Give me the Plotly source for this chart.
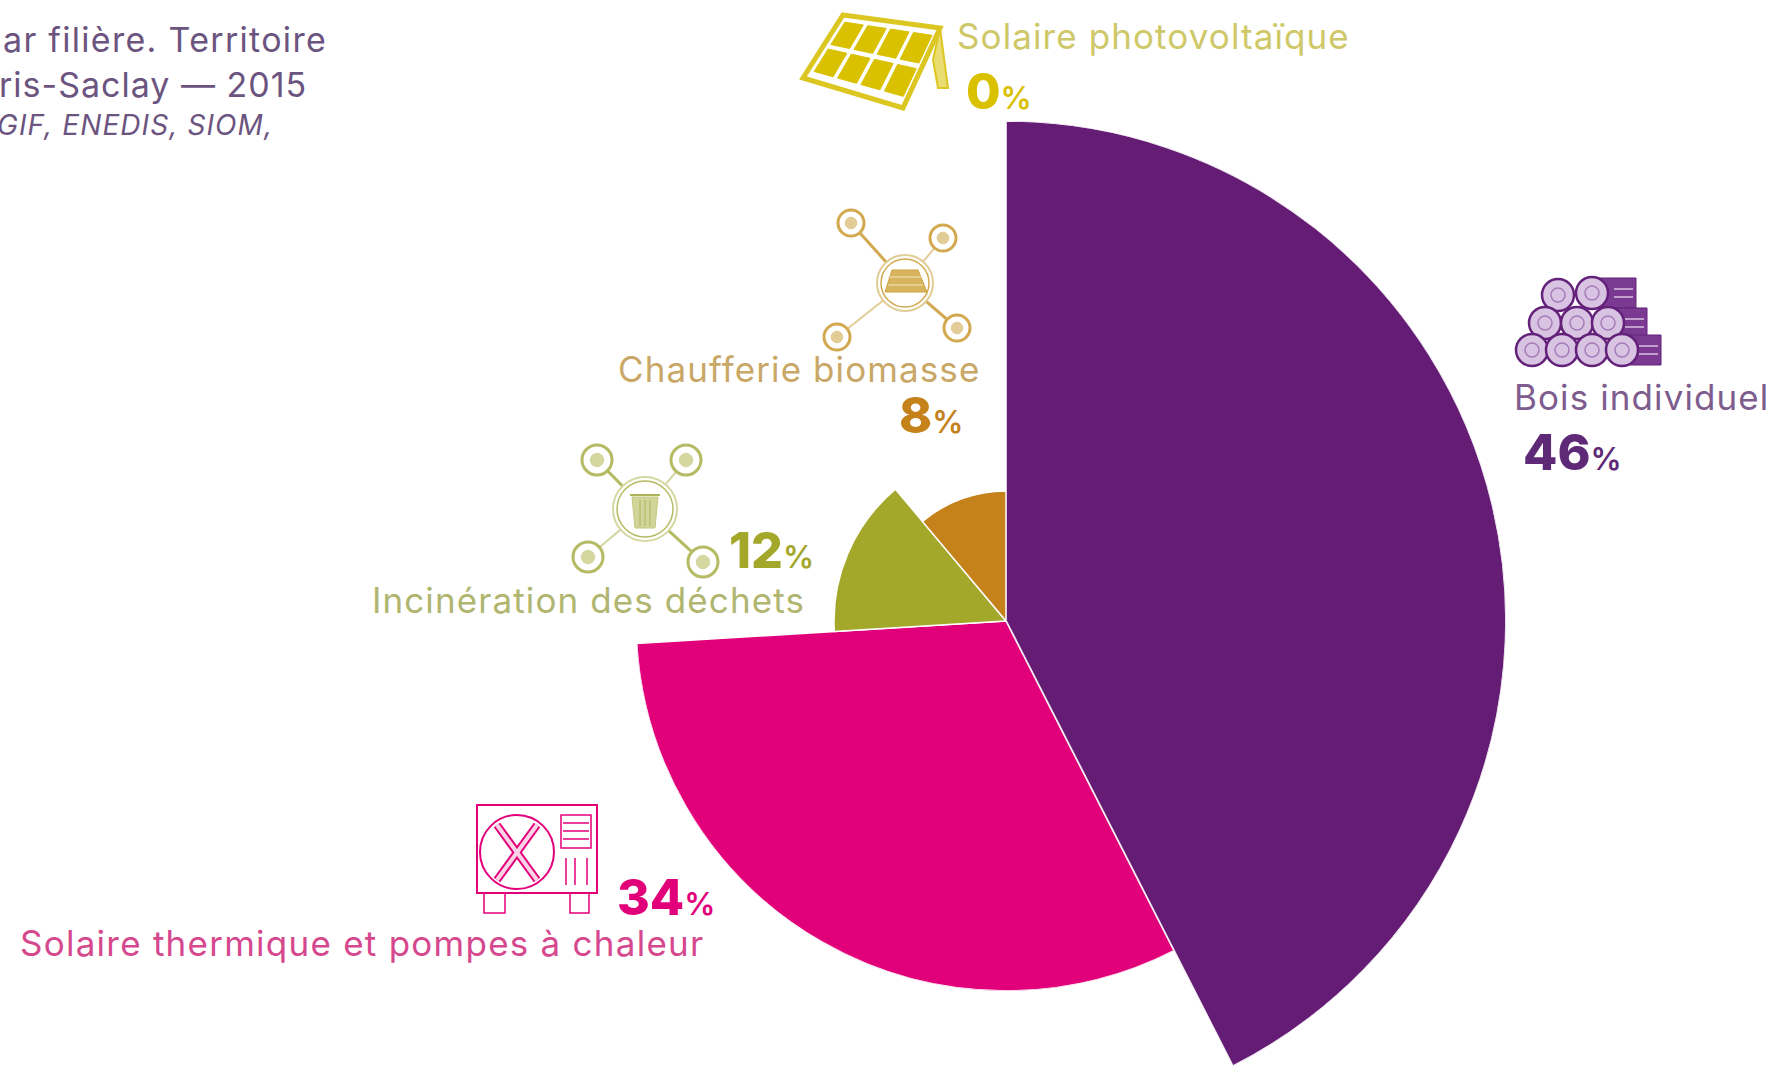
import math
import plotly.graph_objects as go

W, H = 1772, 1066

# ---- data ----
categories = ["Bois individuel", "Solaire thermique et pompes à chaleur", "Incinération des déchets", "Chaufferie biomasse"]
share_labels = ["46", "34", "12", "8"]
angle_start = [0, 153, 266.5, 320]
angle_span = [153, 113.5, 53.5, 40]
radii = [500, 370, 172, 130]
colors = ["#641C74", "#E2007A", "#A3A82B", "#C5811A"]

pv_name = "Solaire photovoltaïque"
pv_share = "0"
title_lines = ["ar filière. Territoire", "ris-Saclay — 2015"]
source_line = "GIF, ENEDIS, SIOM,"

FONT = "Inter"


def px(x):
    return x / W


def py(y):
    return 1 - y / H


fig = go.Figure()
# the smaller three sectors share one polar subplot
fig.add_trace(go.Barpolar(
    r=radii[1:],
    theta=[s + w / 2 for s, w in zip(angle_start[1:], angle_span[1:])],
    width=angle_span[1:],
    marker=dict(color=colors[1:], line=dict(color="white", width=1.5)),
    text=categories[1:],
    hoverinfo="text",
    subplot="polar",
))
# the largest sector overflows the page as a full circle, so it uses a cropped sector subplot
fig.add_trace(go.Barpolar(
    r=radii[:1],
    theta=[angle_start[0] + angle_span[0] / 2],
    width=angle_span[:1],
    marker=dict(color=colors[:1], line=dict(color="white", width=1.5)),
    text=categories[:1],
    hoverinfo="text",
    subplot="polar2",
))


def polar_axis(rmax, **kw):
    return dict(
        bgcolor="rgba(0,0,0,0)",
        radialaxis=dict(visible=False, range=[0, rmax]),
        angularaxis=dict(visible=False, direction="clockwise", rotation=90, thetaunit="degrees"),
        **kw,
    )


cx, cy = 1006, 621
shapes = []


def line(x0, y0, x1, y1, color, width=2):
    shapes.append(dict(type="line", xref="paper", yref="paper", x0=px(x0), y0=py(y0), x1=px(x1), y1=py(y1),
                       line=dict(color=color, width=width), layer="above"))


def circle(x, y, r, color, width=2, fill="rgba(0,0,0,0)"):
    shapes.append(dict(type="circle", xref="paper", yref="paper", x0=px(x - r), x1=px(x + r),
                       y0=py(y + r), y1=py(y - r), line=dict(color=color, width=width), fillcolor=fill, layer="above"))


def poly(points, color, width=2, fill="rgba(0,0,0,0)"):
    d = "M " + " L ".join(f"{px(a):.5f},{py(b):.5f}" for a, b in points) + " Z"
    shapes.append(dict(type="path", xref="paper", yref="paper", path=d, line=dict(color=color, width=width),
                       fillcolor=fill, layer="above"))


def rect(x0, y0, x1, y1, color, width=2, fill="rgba(0,0,0,0)"):
    poly([(x0, y0), (x1, y0), (x1, y1), (x0, y1)], color, width, fill)


# solar panel icon
SOL = "#D9C100"
A, B, C, D = (843, 15), (940, 28), (903, 108), (803, 78)
poly([A, B, C, D], "#DCC722", 5)
poly([(940, 28), (948, 88), (938, 88), (933, 60)], "#DCC722", 2, "#E9DC70")


def bil(u, v):
    tx = A[0] + (B[0] - A[0]) * u
    ty = A[1] + (B[1] - A[1]) * u
    bx = D[0] + (C[0] - D[0]) * u
    by = D[1] + (C[1] - D[1]) * u
    return (tx + (bx - tx) * v, ty + (by - ty) * v)


for row in range(2):
    for col in range(4):
        u0, u1 = 0.06 + col * 0.235, 0.06 + col * 0.235 + 0.19
        v0, v1 = 0.10 + row * 0.42, 0.10 + row * 0.42 + 0.35
        poly([bil(u0, v0), bil(u1, v0), bil(u1, v1), bil(u0, v1)], SOL, 1, SOL)


def network(c, rc, sats, rs, color, light):
    for i, (sx, sy) in enumerate(sats):
        d = math.hypot(sx - c[0], sy - c[1])
        ux, uy = (sx - c[0]) / d, (sy - c[1]) / d
        line(c[0] + ux * rc, c[1] + uy * rc, sx - ux * rs, sy - uy * rs, color if i in (0, 3) else light, 3 if i in (0, 3) else 2)
        circle(sx, sy, rs, color, 3)
        circle(sx, sy, rs * 0.45, light, 1, light)
    circle(c[0], c[1], rc, light, 2)
    circle(c[0], c[1], rc - 4, color, 1.5)


# biomass icon
network((905, 283), 28, [(851, 223), (943, 238), (837, 337), (957, 328)], 13, "#D2A94F", "#E3CD97")
poly([(892, 270), (918, 270), (927, 292), (885, 292)], "#CFA23E", 1, "#D8B45F")
for yy in (277, 285):
    line(888, yy, 923, yy, "#F2E4C4", 1)
# waste icon
network((645, 509), 32, [(597, 460), (686, 460), (588, 557), (703, 562)], 15, "#B5BB62", "#D4D7A0")
poly([(632, 497), (658, 497), (655, 528), (635, 528)], "#C4C87F", 1, "#D2D59A")
for xx in (640, 645, 650):
    line(xx, 500, xx, 526, "#AEB35C", 1)
line(630, 495, 660, 495, "#AEB35C", 2)

# logs icon
LOG, LOGL = "#63217A", "#D9C3E2"
for rx0, rx1, ry in [(1592, 1636, 293), (1608, 1647, 323), (1622, 1661, 350)]:
    rect(rx0, ry - 15, rx1, ry + 15, LOG, 1, "#7B3A92")
    line(rx1 - 22, ry - 4, rx1 - 3, ry - 4, "#D9C3E2", 1.5)
    line(rx1 - 22, ry + 4, rx1 - 3, ry + 4, "#D9C3E2", 1.5)
for row_centres in [[(1558, 295), (1592, 293)],
                    [(1545, 323), (1577, 323), (1608, 323)],
                    [(1532, 350), (1562, 350), (1592, 350), (1622, 350)]]:
    for x, y in row_centres:
        circle(x, y, 16, LOG, 2.5, LOGL)
        circle(x, y, 7, "#A57DB8", 1.5)

# heat pump icon
HP = "#E2007A"
rect(477, 805, 597, 893, HP, 2)
circle(517, 852, 37, HP, 2)
for a, b, c, d in [(497, 825, 537, 880), (537, 825, 497, 880)]:
    line(a, b, c, d, HP, 8)
for a, b, c, d in [(497, 825, 537, 880), (537, 825, 497, 880)]:
    line(a, b, c, d, "#FBD3E6", 4)
rect(561, 815, 591, 848, HP, 1.5)
for yy in (823, 831, 839):
    line(563, yy, 589, yy, HP, 1.5)
for xx in (566, 575, 587):
    line(xx, 858, xx, 885, HP, 1.5)
rect(484, 893, 505, 913, HP, 1.5)
rect(570, 893, 589, 913, HP, 1.5)

annotations = []


def note(text, x, y, color, size, anchor="left", spacing=None):
    if spacing:
        text = f'<span style="letter-spacing:{spacing}px">{text}</span>'
    annotations.append(dict(text=text, xref="paper", yref="paper", x=px(x), y=py(y), xanchor=anchor, yanchor="middle",
                            showarrow=False, align=anchor, font=dict(family=FONT, size=size, color=color)))


def share(value, x, y, color, size):
    note(f'<span style="font-weight:800">{value}</span>'
         f'<span style="font-size:{int(size * 0.62)}px;font-weight:600">%</span>', x, y, color, size)


TITLE = "#6C5480"
note(title_lines[0], 329, 39, TITLE, 34, "right", 1.3)
note(title_lines[1], 309, 84, TITLE, 34, "right", 1.0)
note(f"<i>{source_line}</i>", 275, 125, TITLE, 28, "right", 1.1)

LS = 1.1
note(pv_name, 955, 36, "#CFC868", 35, spacing=LS)
share(pv_share, 964, 91, SOL, 50)
note(categories[0], 1512, 397, "#7E5C8E", 35, spacing=LS)
share(share_labels[0], 1521, 452, "#5E2A78", 50)
note(categories[1], 18, 943, "#D6488E", 35, spacing=1.25)
share(share_labels[1], 615, 897, HP, 50)
note(categories[2], 370, 600, "#B0B56F", 35, spacing=LS)
share(share_labels[2], 727, 550, "#A3A82B", 50)
note(categories[3], 616, 369, "#C9A766", 35, spacing=LS)
share(share_labels[3], 897, 415, "#C5811A", 50)

fig.update_layout(
    width=W,
    height=H,
    autosize=False,
    margin=dict(l=0, r=0, t=0, b=0),
    paper_bgcolor="white",
    showlegend=False,
    polar=polar_axis(radii[1], domain=dict(x=[px(cx - radii[1]), px(cx + radii[1])],
                                           y=[py(cy + radii[1]), py(cy - radii[1])])),
    polar2=polar_axis(radii[0], sector=[-63, 90], domain=dict(x=[px(cx), px(cx + radii[0])], y=[0, py(cy - radii[0])])),
    shapes=shapes,
    annotations=annotations,
)

fig.write_html("out.html", config=dict(displayModeBar=False),
               post_script="document.body.style.margin='0';document.documentElement.style.overflow='hidden';")
